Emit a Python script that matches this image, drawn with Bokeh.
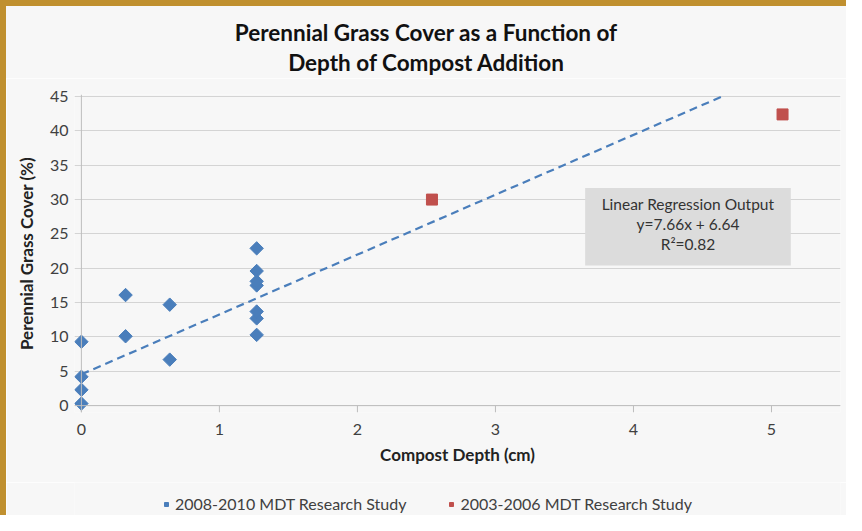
import math
from bokeh.plotting import figure
from bokeh.models import Range1d, Legend, LegendItem, Span, Div
from bokeh.layouts import column, row
from bokeh.embed import file_html
from bokeh.resources import INLINE
from bokeh.core.properties import value

# Data
depth_0810 = [0, 0, 0, 0, 0.32, 0.32, 0.64, 0.64, 1.27, 1.27, 1.27, 1.27, 1.27, 1.27, 1.27]
cover_0810 = [0.3, 2.3, 4.2, 9.3, 10.1, 16.1, 6.7, 14.7, 10.3, 12.7, 13.7, 17.5, 18.1, 19.6, 22.9]
depth_0306 = [2.54, 5.08]
cover_0306 = [30.0, 42.4]
trend_x = [0, 4.64]
trend_y = [4.56, 45]
box_x = [3.65, 5.14]
box_y = [20.4, 31.7]
box_lines = ["Linear Regression Output", "y=7.66x + 6.64", "R\u00b2=0.82"]
box_line_y = [29.4, 26.5, 23.6]
x_ticks = [0, 1, 2, 3, 4, 5]
y_ticks = [0, 5, 10, 15, 20, 25, 30, 35, 40, 45]
title_lines = ["Perennial Grass Cover as a Function of", "Depth of Compost Addition"]
series_names = ["2008-2010 MDT Research Study", "2003-2006 MDT Research Study"]

FONT = "Lato"
BG = "#f7f7f7"
BLUE = "#4a7ebb"
RED = "#c0504d"
GOLD = "#c0902f"
AXIS = "#bdbdbd"

p = figure(width=840, height=404, output_backend="svg", toolbar_location=None,
           x_range=Range1d(-0.05, 5.5), y_range=Range1d(-1.0, 45.3),
           min_border_left=68, min_border_right=6, min_border_top=16, min_border_bottom=70)
p.background_fill_color = BG
p.border_fill_color = BG
p.outline_line_color = None

# Axes
p.xaxis.ticker = x_ticks
p.yaxis.ticker = y_ticks
for ax in (p.xaxis[0], p.yaxis[0]):
    ax.axis_line_color = None
    ax.major_tick_line_color = None
    ax.minor_tick_line_color = None
    ax.major_label_text_font = FONT
    ax.major_label_text_font_size = "16px"
    ax.major_label_text_color = "#404040"
    ax.axis_label_text_font = FONT
    ax.axis_label_text_font_size = "17px"
    ax.axis_label_text_font_style = "bold"
    ax.axis_label_text_color = "#222222"
p.xaxis.axis_label = "Compost Depth (cm)"
p.yaxis.axis_label = "Perennial Grass Cover (%)"
p.xaxis.major_label_standoff = 5
p.xaxis.axis_label_standoff = 6
p.yaxis.major_label_standoff = 0
p.yaxis.axis_label_standoff = 10
p.yaxis.major_label_orientation = "horizontal"

p.xgrid.grid_line_color = None
p.ygrid.ticker = y_ticks
p.ygrid.grid_line_color = "#d4d4d4"

# axis lines at zero and x tick marks
p.add_layout(Span(location=0, dimension="height", line_color=AXIS, line_width=1))
p.add_layout(Span(location=0, dimension="width", line_color=AXIS, line_width=1))
p.segment(x0=x_ticks, x1=x_ticks, y0=[0] * len(x_ticks), y1=[-1] * len(x_ticks),
          line_color=AXIS, line_width=1)

# Regression box
p.quad(left=[box_x[0]], right=[box_x[1]], bottom=[box_y[0]], top=[box_y[1]],
       fill_color="#dcdcdc", line_color=None)
p.text(x=[(box_x[0] + box_x[1]) / 2] * 3, y=box_line_y, text=box_lines,
       text_align="center", text_baseline="middle", text_font=value(FONT),
       text_font_size="15.5px", text_color="#333333")

# Trend line
p.line(trend_x, trend_y, line_color=BLUE, line_width=2.2, line_dash="8 5")

# Points
p.scatter(depth_0810, cover_0810, marker="square", angle=math.pi / 4, size=9.5,
          fill_color=BLUE, line_color=BLUE)
p.scatter(depth_0306, cover_0306, marker="square", size=11, fill_color=RED,
          line_color=RED)

# Legend strip below the chart (key glyphs sit outside its visible range)
lg = figure(width=840, height=33, output_backend="svg", toolbar_location=None,
            x_range=Range1d(0, 1), y_range=Range1d(0, 1), min_border=0,
            x_axis_location=None, y_axis_location=None)
lg.grid.grid_line_color = None
lg.outline_line_color = None
lg.background_fill_color = BG
lg.border_fill_color = BG
k1 = lg.scatter(x=[depth_0810[0] - 5], y=[cover_0810[0] - 5], marker="square",
                angle=math.pi / 4, size=6.5, fill_color=BLUE, line_color=BLUE)
k2 = lg.scatter(x=[depth_0306[0] - 5], y=[cover_0306[0] - 50], marker="square",
                size=10, fill_color=RED, line_color=RED)
legend = Legend(items=[LegendItem(label=series_names[0], renderers=[k1]),
                       LegendItem(label=series_names[1], renderers=[k2])],
                orientation="horizontal", location=(87, 2),
                background_fill_alpha=0, border_line_color=None,
                label_text_font=FONT, label_text_font_size="16px",
                label_text_color="#404040", glyph_width=10, glyph_height=12,
                label_standoff=4, spacing=40, padding=0, margin=0)
lg.add_layout(legend, "center")

title_html = ('<div style="width: 822px; font-family: Lato; font-size: 22.5px; '
              'font-weight: bold; color: #111111; text-align: center; line-height: 30px; '
              'padding-top: 12px; padding-left: 18px;">'
              + "<br>".join(title_lines) + "</div>")
title_div = Div(text=title_html, width=840, height=72, margin=0,
                styles={"background-color": BG})
top_bar = Div(width=846, height=6, margin=0, styles={"background-color": GOLD})
left_bar = Div(width=6, height=509, margin=0, styles={"background-color": GOLD})
layout = column(top_bar, row(left_bar, column(title_div, p, lg)))

open("out.html", "w").write(file_html(layout, INLINE))
